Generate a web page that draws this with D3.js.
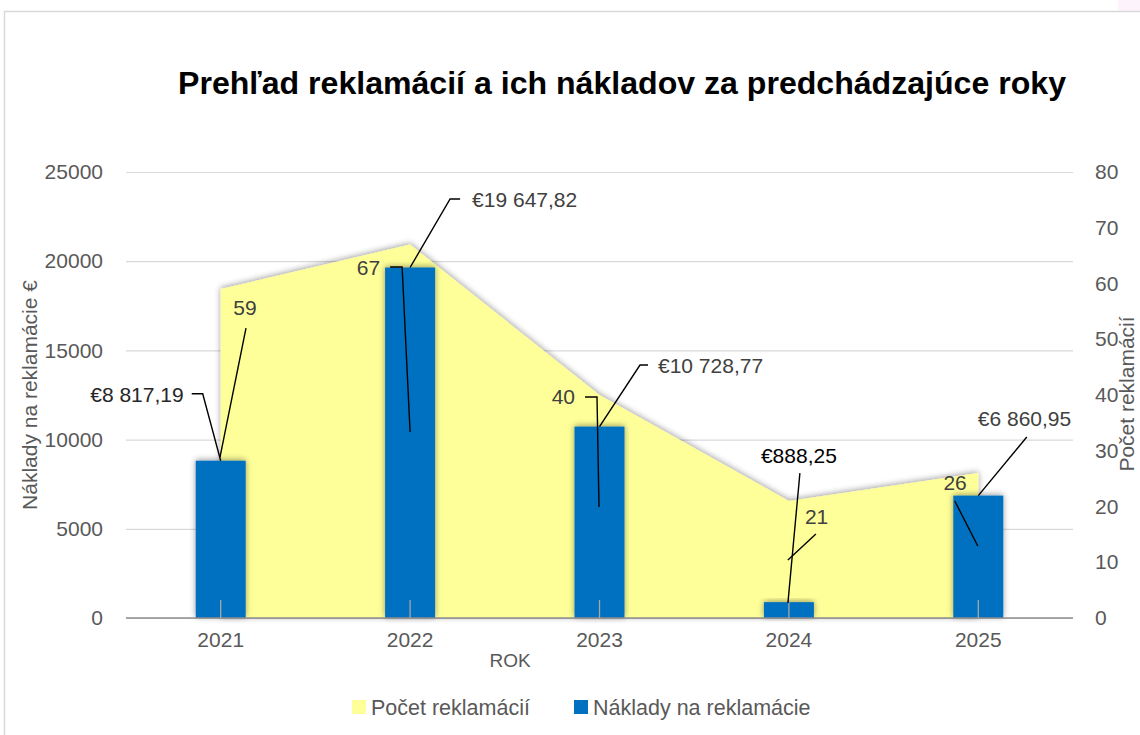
<!DOCTYPE html>
<html>
<head>
<meta charset="utf-8">
<script src="https://cdn.jsdelivr.net/npm/d3@7"></script>
<style>
  html, body { margin: 0; padding: 0; background: #ffffff; }
  svg { display: block; }
  text { font-family: "Liberation Sans", Arial, sans-serif; }
</style>
</head>
<body>
<svg id="chart" width="1140" height="735"></svg>
<script>
// ---- data ----
const years = ["2021", "2022", "2023", "2024", "2025"];
const costs = [8817.19, 19647.82, 10728.77, 888.25, 6860.95];
const counts = [59, 67, 40, 21, 26];
const costLabels = ["€8 817,19", "€19 647,82", "€10 728,77", "€888,25", "€6 860,95"];
const leftTicks = [0, 5000, 10000, 15000, 20000, 25000];
const rightTicks = [0, 10, 20, 30, 40, 50, 60, 70, 80];
const titleText = "Prehľad reklamácií a ich nákladov za predchádzajúce roky";
const leftAxisTitle = "Náklady na reklamácie €";
const rightAxisTitle = "Počet reklamácií";
const xAxisTitle = "ROK";
const legendItems = ["Počet reklamácií", "Náklady na reklamácie"];

// ---- label layout (offsets from anchor points, pixels) ----
const costLabelLayout = [
  { dx: -37, dy: -66, anchor: "end", color: "#262626", leader: [[0, 0], [-18, -67], [-29, -67]] },
  { dx: 62, dy: -67.5, anchor: "start", color: "#404040", leader: [[0, 0], [40, -68.5], [50, -68.5]] },
  { dx: 58.5, dy: -60.6, anchor: "start", color: "#404040", leader: [[0, 0], [40.5, -61.6], [48.5, -61.6]] },
  { dx: 10, dy: -147, anchor: "middle", color: "#000000", leader: [[-1, 1], [11, -129]] },
  { dx: -0.5, dy: -76.6, anchor: "start", color: "#404040", leader: [[0, 0], [48.5, -58.6]] }
];
const countLabelLayout = [
  { dx: 24.3, dy: 19, anchor: "middle", leader: [[25.3, 39], [-0.7, 168]] },
  { dx: -30, dy: 23.5, anchor: "end", leader: [[-20, 22.5], [-8, 22.5], [0, 187.5]] },
  { dx: -24.5, dy: 2, anchor: "end", leader: [[-14.5, 2], [-2.5, 2], [-0.5, 112]] },
  { dx: 16, dy: 16, anchor: "start", leader: [[27, 33], [-1, 59]] },
  { dx: -11.5, dy: 10, anchor: "end", leader: [[-23.5, 28], [-0.5, 73]] }
];

const svg = d3.select("#chart");
const W = 1140, H = 735;
const plot = { left: 126, right: 1073, top: 172, bottom: 618 };

const yellow = "#FFFF99";
const blue = "#0070C0";
const grey = "#595959";

// background + frame
svg.append("rect").attr("x", 0).attr("y", 0).attr("width", W).attr("height", H).attr("fill", "#fff");
svg.append("rect").attr("x", 1118).attr("y", 0).attr("width", 22).attr("height", 11).attr("fill", "#fdf3fd");
svg.append("rect").attr("x", 4.5).attr("y", 11.5).attr("width", 1300).attr("height", 900)
  .attr("fill", "none").attr("stroke", "#d9d9d9").attr("stroke-width", 1.5);

// shadow filter
const defs = svg.append("defs");
const f = defs.append("filter").attr("id", "shadow").attr("x", "-20%").attr("y", "-20%").attr("width", "140%").attr("height", "140%");
f.append("feGaussianBlur").attr("in", "SourceAlpha").attr("stdDeviation", 3).attr("result", "blur");
f.append("feOffset").attr("in", "blur").attr("dx", 0).attr("dy", -1).attr("result", "off");
f.append("feComponentTransfer").attr("in", "off").attr("result", "sh")
  .append("feFuncA").attr("type", "linear").attr("slope", 0.4);
const m = f.append("feMerge");
m.append("feMergeNode").attr("in", "sh");
m.append("feMergeNode").attr("in", "SourceGraphic");

// scales
const x = d3.scaleBand().domain(years).range([plot.left, plot.right]).paddingInner(0.736).paddingOuter(0.368);
const cx = d => x(d) + x.bandwidth() / 2;
const yL = d3.scaleLinear().domain([0, 25000]).range([plot.bottom, plot.top]);
const yR = d3.scaleLinear().domain([0, 80]).range([plot.bottom, plot.top]);

// gridlines
const grid = svg.append("g").attr("transform", `translate(${plot.left},0)`)
  .call(d3.axisLeft(yL).tickValues(leftTicks).tickSize(-(plot.right - plot.left)).tickFormat(""));
grid.select(".domain").remove();
grid.selectAll("line").attr("stroke", "#d9d9d9").attr("stroke-width", 1.2);

// area (count)
const areaGen = d3.area()
  .x((d, i) => cx(years[i]))
  .y0(yR(0))
  .y1(d => yR(d));
svg.append("path").datum(counts).attr("d", areaGen).attr("fill", yellow).attr("filter", "url(#shadow)");

// bars (costs)
svg.append("g").selectAll("rect").data(costs).join("rect")
  .attr("x", (d, i) => x(years[i]))
  .attr("y", d => yL(d))
  .attr("width", x.bandwidth())
  .attr("height", d => yL(0) - yL(d))
  .attr("fill", blue)
  .attr("filter", "url(#shadow)");

// x axis
const xAxis = svg.append("g").attr("transform", `translate(0,${plot.bottom})`)
  .call(d3.axisBottom(x).tickSize(0).tickPadding(14));
xAxis.select(".domain").attr("stroke", "#8c8c8c").attr("stroke-width", 1.3)
  .attr("d", `M${plot.left},0H${plot.right}`);
xAxis.selectAll("text").attr("fill", grey).attr("font-size", 21).attr("font-family", "Liberation Sans, Arial, sans-serif");
// tick marks (inside)
svg.append("g").selectAll("line").data(years).join("line")
  .attr("x1", d => cx(d)).attr("x2", d => cx(d))
  .attr("y1", plot.bottom - 18).attr("y2", plot.bottom)
  .attr("stroke", "#a6a6a6").attr("stroke-width", 1.3);

// left axis
const la = svg.append("g").attr("transform", `translate(103,0)`)
  .call(d3.axisLeft(yL).tickValues(leftTicks).tickSize(0).tickPadding(0).tickFormat(d3.format("d")));
la.select(".domain").remove();
la.selectAll("text").attr("fill", grey).attr("font-size", 21).attr("font-family", "Liberation Sans, Arial, sans-serif");

// right axis
const ra = svg.append("g").attr("transform", `translate(1095,0)`)
  .call(d3.axisRight(yR).tickValues(rightTicks).tickSize(0).tickPadding(0).tickFormat(d3.format("d")));
ra.select(".domain").remove();
ra.selectAll("text").attr("fill", grey).attr("font-size", 21).attr("font-family", "Liberation Sans, Arial, sans-serif");

// axis titles
svg.append("text").attr("transform", "translate(37,395) rotate(-90)")
  .attr("text-anchor", "middle").attr("font-size", 21).attr("fill", grey).text(leftAxisTitle);
svg.append("text").attr("transform", "translate(1134,394) rotate(-90)")
  .attr("text-anchor", "middle").attr("font-size", 21).attr("fill", grey).text(rightAxisTitle);
svg.append("text").attr("x", 510).attr("y", 667)
  .attr("text-anchor", "middle").attr("font-size", 19).attr("fill", grey).text(xAxisTitle);

// title
svg.append("text").attr("x", 178).attr("y", 94)
  .attr("font-size", 32).attr("font-weight", "bold").attr("fill", "#000")
  .attr("textLength", 888).attr("lengthAdjust", "spacingAndGlyphs")
  .text(titleText);

// leader lines + labels
const line = d3.line();
const lead = svg.append("g");
costs.forEach((v, i) => {
  const ax = cx(years[i]), ay = yL(v);
  const L = costLabelLayout[i];
  lead.append("path").attr("d", line(L.leader.map(p => [ax + p[0], ay + p[1]])))
    .attr("fill", "none").attr("stroke", "#000").attr("stroke-width", 1.4);
  lead.append("text").attr("x", ax + L.dx).attr("y", ay + L.dy)
    .attr("dy", "0.35em").attr("text-anchor", L.anchor)
    .attr("font-size", 21).attr("fill", L.color).text(costLabels[i]);
});
counts.forEach((v, i) => {
  const ax = cx(years[i]), ay = yR(v);
  const L = countLabelLayout[i];
  lead.append("path").attr("d", line(L.leader.map(p => [ax + p[0], ay + p[1]])))
    .attr("fill", "none").attr("stroke", "#000").attr("stroke-width", 1.4);
  lead.append("text").attr("x", ax + L.dx).attr("y", ay + L.dy)
    .attr("dy", "0.35em").attr("text-anchor", L.anchor)
    .attr("font-size", 21).attr("fill", "#404040").text(d3.format("d")(v));
});

// legend
const legendX = [352, 574];
const legendColors = [yellow, blue];
const lg = svg.append("g");
legendItems.forEach((t, i) => {
  lg.append("rect").attr("x", legendX[i]).attr("y", 700).attr("width", 14).attr("height", 14).attr("fill", legendColors[i]);
  lg.append("text").attr("x", legendX[i] + 19).attr("y", 707).attr("dy", "0.35em")
    .attr("font-size", 21.5).attr("fill", grey).text(t);
});
</script>
</body>
</html>
